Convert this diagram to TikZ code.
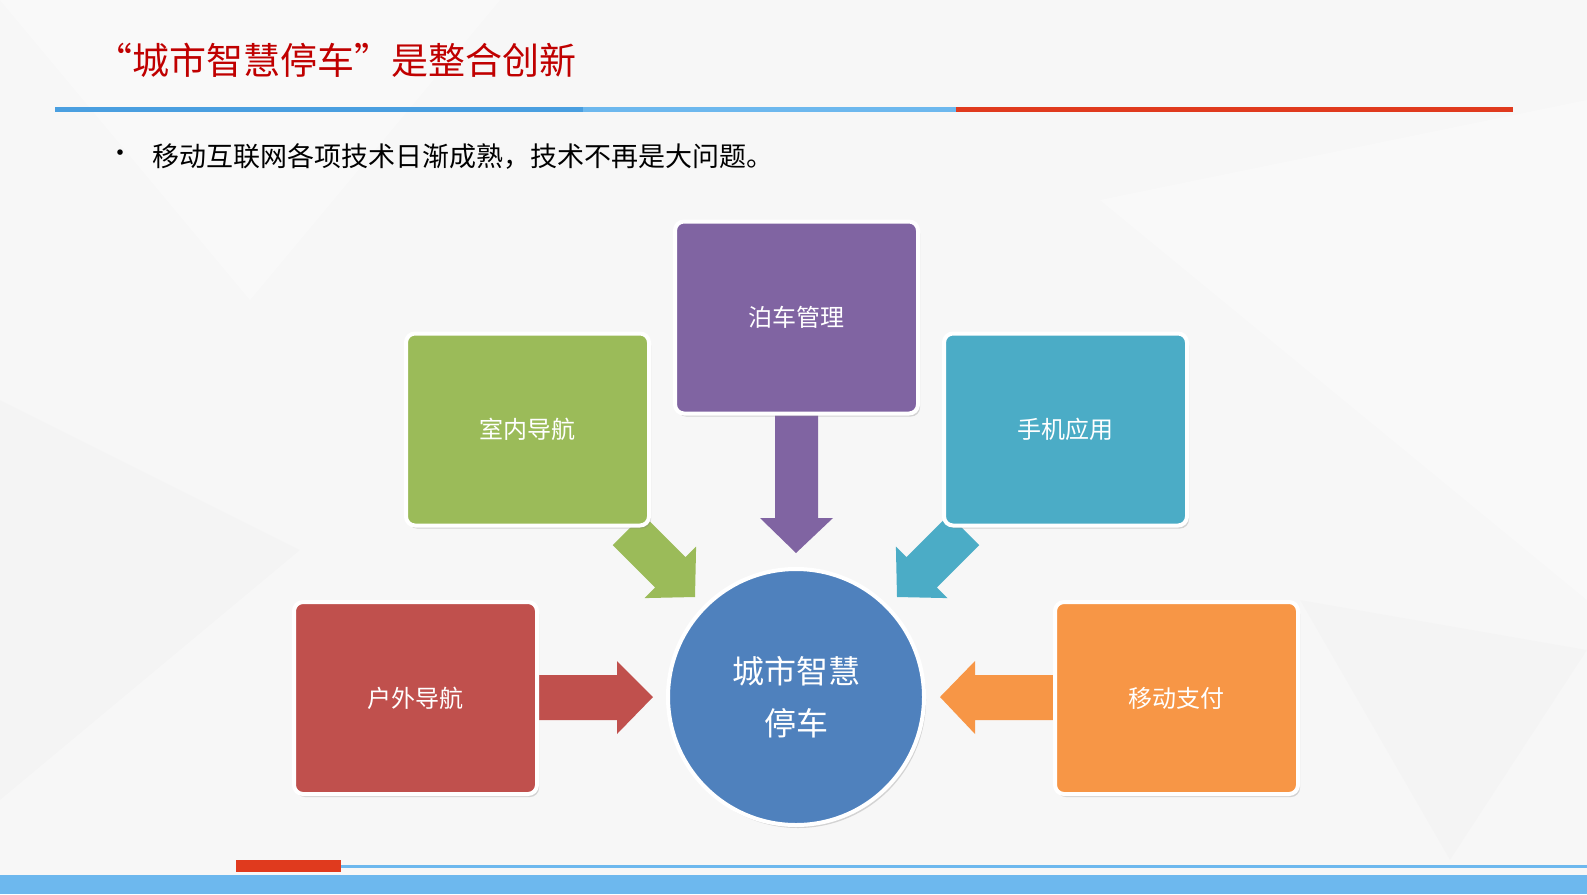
\documentclass[tikz,border=0pt]{standalone}
\usepackage{fontspec}
\newfontfamily\cjk{Noto Sans CJK SC}
\usetikzlibrary{shadows}
\definecolor{ttl}{HTML}{C00000}
\definecolor{lblue}{HTML}{4A9FE0}
\definecolor{lblue2}{HTML}{6DB8EE}
\definecolor{lred}{HTML}{E03A1E}
\definecolor{cpur}{HTML}{8064A2}
\definecolor{cgrn}{HTML}{9BBB59}
\definecolor{cteal}{HTML}{4BACC6}
\definecolor{cred}{HTML}{C0504D}
\definecolor{corg}{HTML}{F79646}
\definecolor{cblu}{HTML}{4F81BD}
\begin{document}
\begin{tikzpicture}[x=1pt,y=-1pt,
  boxx/.style={draw=white,line width=4pt,rounded corners=9pt,minimum width=243pt,minimum height=192pt,
     drop shadow={shadow xshift=2pt,shadow yshift=-3pt,opacity=0.3},text=white,font=\cjk\fontsize{24}{28}\selectfont}]
\useasboundingbox (0,0) rectangle (1587,894);
\clip (0,0) rectangle (1587,894);
\fill[white!94!gray] (0,0) rectangle (1587,894);
\fill[white,opacity=0.3] (0,0) -- (500,0) -- (250,300) -- cycle;
\fill[white,opacity=0.3] (1100,200) -- (1587,100) -- (1587,600) -- cycle;
\fill[gray,opacity=0.02] (0,400) -- (300,550) -- (0,800) -- cycle;
\fill[gray,opacity=0.02] (1300,600) -- (1587,650) -- (1450,860) -- cycle;
\node[anchor=west,text=ttl,font=\cjk\fontsize{37}{40}\selectfont,inner sep=0] (title) at (95,60) {“城市智慧停车”是整合创新};
\fill[lblue] (55,107) rectangle (583,112);
\fill[lblue2] (583,107) rectangle (956,112);
\fill[lred] (956,107) rectangle (1513,112);
\node[anchor=west,font=\cjk\fontsize{26}{30}\selectfont,inner sep=0] (bul) at (107,156) {•};
\node[anchor=west,font=\cjk\fontsize{27}{30}\selectfont,inner sep=0] (txt) at (152,156) {移动互联网各项技术日渐成熟，技术不再是大问题。};
\fill[cpur] (775,410) -- (818,410) -- (818,518) -- (833,518) -- (796,553) -- (760,518) -- (775,518) -- cycle;
\fill[cgrn] (643.1,514.7) -- (685.5,557.1) -- (696.1,546.5) -- (695,597) -- (644.5,598.1) -- (655.1,587.5) -- (612.7,545.1) -- cycle;
\fill[cteal] (948.9,514.7) -- (906.5,557.1) -- (895.9,546.5) -- (897,597) -- (947.5,598.1) -- (936.9,587.5) -- (979.3,545.1) -- cycle;
\fill[cred] (535,675) -- (617,675) -- (617,661) -- (653,697) -- (617,734) -- (617,720) -- (535,720) -- cycle;
\fill[corg] (1057,675) -- (975,675) -- (975,661) -- (940,697) -- (975,734) -- (975,720) -- (1057,720) -- cycle;
\node[boxx,fill=cpur] (b1) at (796.5,317.5) {泊车管理};
\node[boxx,fill=cgrn] (b2) at (527.5,429.5) {室内导航};
\node[boxx,fill=cteal] (b3) at (1065.5,429.5) {手机应用};
\node[boxx,fill=cred] (b4) at (415.5,698) {户外导航};
\node[boxx,fill=corg] (b5) at (1176.5,698) {移动支付};
\node[circle,draw=white,line width=4pt,fill=cblu,minimum size=256pt,text=white,align=center,
  drop shadow={shadow xshift=2pt,shadow yshift=-3pt,opacity=0.3},
  font=\cjk\fontsize{32}{52}\selectfont] (c) at (796,697) {城市智慧\\停车};
\fill[lblue2] (0,875) rectangle (1587,894);
\fill[lblue2] (340,865) rectangle (1587,868);
\fill[lred] (236,860) rectangle (341,872);
\end{tikzpicture}
\end{document}
